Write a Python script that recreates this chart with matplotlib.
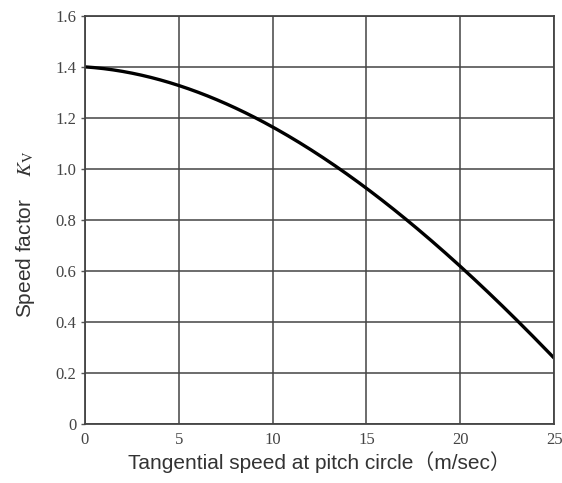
import numpy as np
import matplotlib
matplotlib.use('Agg')
import matplotlib.pyplot as plt

# values
speed = [0, 2.5, 5, 7.5, 10, 12.5, 15, 17.5, 20, 22.5, 25]
kv = [1.40, 1.38, 1.325, 1.25, 1.163, 1.06, 0.93, 0.78, 0.612, 0.44, 0.263]

x_ticks = [0, 5, 10, 15, 20, 25]
x_tick_labels = ['0', '5', '10', '15', '20', '25']
y_ticks = [0, 0.2, 0.4, 0.6, 0.8, 1.0, 1.2, 1.4, 1.6]
y_tick_labels = ['0', '0.2', '0.4', '0.6', '0.8', '1.0', '1.2', '1.4', '1.6']

plt.rcParams['mathtext.fontset'] = 'stix'

fig = plt.figure(figsize=(5.62, 4.83), dpi=100)
ax = fig.add_axes([0.151, 0.122, 0.835, 0.845])

# smooth the curve through the read points with a cubic fit
coef = np.polyfit(speed, kv, 3)
xs = np.linspace(0, 25, 200)
ax.plot(xs, np.polyval(coef, xs), color='black', lw=2.4, solid_capstyle='butt')

ax.set_xlim(0, 25)
ax.set_ylim(0, 1.6)
ax.set_xticks(x_ticks)
ax.set_xticklabels(x_tick_labels, family='Liberation Serif', fontsize=12, color='#444444')
ax.set_yticks(y_ticks)
ax.set_yticklabels(y_tick_labels, family='Liberation Serif', fontsize=12, color='#444444')
ax.tick_params(axis='x', length=0, pad=6)
ax.tick_params(axis='y', length=3, width=1, color='#555555', pad=3)

ax.grid(True, color='#444444', lw=1.1)
for s in ax.spines.values():
    s.set_color('#444444')
    s.set_linewidth(1.3)

ax.set_xlabel('Tangential speed at pitch circle（m/sec）',
              family=['Liberation Sans', 'Noto Sans CJK SC'], fontsize=15, color='#333333', labelpad=2)
ax.set_ylabel('Speed factor    $K_{\\rm V}$', family='Liberation Sans', fontsize=15,
              color='#333333')
ax.yaxis.set_label_coords(-0.102, 0.466)

fig.savefig('out.png', dpi=100)
